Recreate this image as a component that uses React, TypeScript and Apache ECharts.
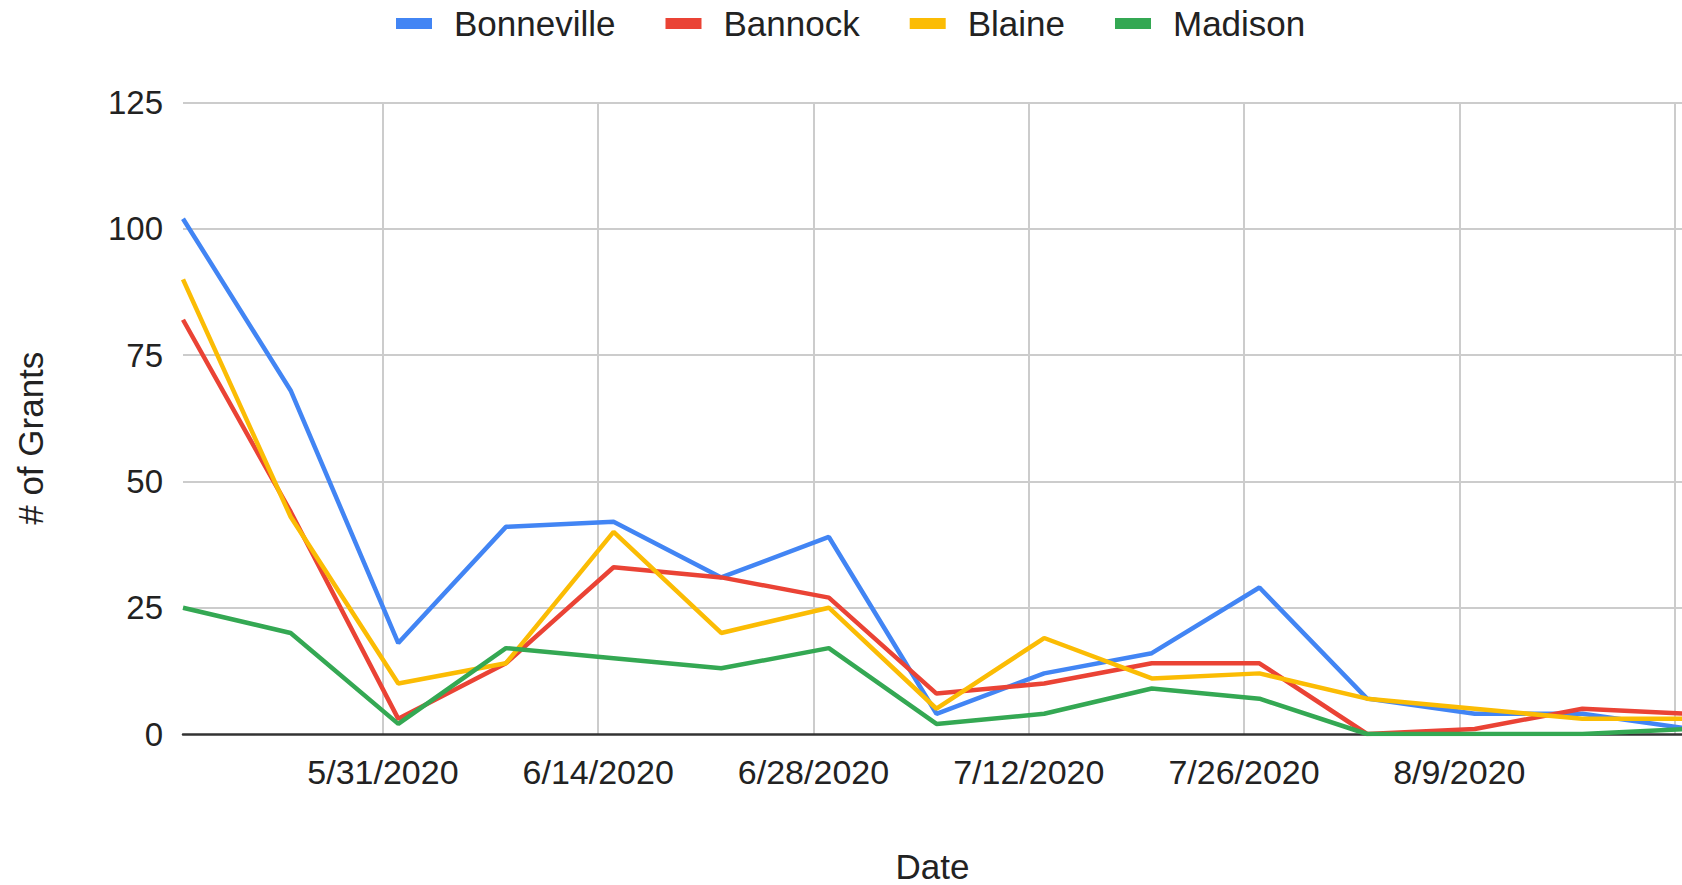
import React, { useEffect, useRef } from "react";
import * as echarts from "echarts";

// ---- data ----
const dates = [
  "2020-05-18", "2020-05-25", "2020-06-01", "2020-06-08", "2020-06-15",
  "2020-06-22", "2020-06-29", "2020-07-06", "2020-07-13", "2020-07-20",
  "2020-07-27", "2020-08-03", "2020-08-10", "2020-08-17", "2020-08-24",
];
const bonneville = [102, 68, 18, 41, 42, 31, 39, 4, 12, 16, 29, 7, 4, 4, 1];
const bannock = [82, 44, 3, 14, 33, 31, 27, 8, 10, 14, 14, 0, 1, 5, 4];
const blaine = [90, 43, 10, 14, 40, 20, 25, 5, 19, 11, 12, 7, 5, 3, 3];
const madison = [25, 20, 2, 17, 15, 13, 17, 2, 4, 9, 7, 0, 0, 0, 1];

const seriesNames = ["Bonneville", "Bannock", "Blaine", "Madison"];
const seriesValues = [bonneville, bannock, blaine, madison];
const seriesColors = ["#4285F4", "#EA4335", "#FBBC04", "#34A853"];

// x tick labels every 14 days, starting 5/31/2020
const xTickLabels = ["5/31/2020", "6/14/2020", "6/28/2020", "7/12/2020", "7/26/2020", "8/9/2020"];
const yTicks = [0, 25, 50, 75, 100, 125];

const DAY = 86400000;
const ANCHOR = Date.UTC(2020, 4, 31);
// x expressed in fortnights from 5/31/2020 so that gridlines fall on integers
const toFortnights = (iso: string) => (Date.parse(iso) - ANCHOR) / (14 * DAY);

const X_MIN = toFortnights("2020-05-18");
const X_MAX = toFortnights("2020-08-23") + 0.48 / 14;

const FONT = '"Liberation Sans", Arial, sans-serif';

export default function App() {
  const ref = useRef<HTMLDivElement>(null);

  useEffect(() => {
    if (!ref.current) return;
    const chart = echarts.init(ref.current, undefined, { renderer: "svg" });

    const series = seriesNames.map((name, i) => ({
      name,
      type: "line",
      data: dates.map((d, j) => [toFortnights(d), seriesValues[i][j]]),
      showSymbol: false,
      symbol: "none",
      color: seriesColors[i],
      lineStyle: { width: 4.5, color: seriesColors[i] },
      clip: true,
    }));

    chart.setOption({
      animation: false,
      backgroundColor: "#ffffff",
      textStyle: { fontFamily: FONT },
      legend: {
        data: seriesNames,
        left: 396,
        top: 6,
        padding: 0,
        icon: "rect",
        itemWidth: 36,
        itemHeight: 11,
        itemGap: 50,
        textStyle: {
          fontFamily: FONT,
          fontSize: 35,
          color: "#222222",
          padding: [0, 0, 0, 17],
        },
      },
      grid: {
        left: 183,
        right: 0,
        top: 102.5,
        bottom: 151,
        containLabel: false,
        outerBoundsMode: "none",
      },
      xAxis: {
        type: "value",
        min: X_MIN,
        max: X_MAX,
        minInterval: 1,
        maxInterval: 1,
        name: "Date",
        nameLocation: "middle",
        nameGap: 115,
        nameTextStyle: { fontFamily: FONT, fontSize: 35, color: "#222222" },
        axisLine: { show: true, onZero: false, lineStyle: { color: "#333333", width: 2.5 } },
        axisTick: { show: false },
        axisLabel: {
          show: true,
          margin: 21,
          fontFamily: FONT,
          fontSize: 34,
          color: "#222222",
          showMinLabel: true,
          showMaxLabel: true,
          hideOverlap: false,
          formatter: (v: number) => {
            const r = Math.round(v);
            if (Math.abs(v - r) > 1e-6) return "";
            return xTickLabels[r] ?? "";
          },
        },
        splitLine: {
          show: true,
          showMinLine: false,
          showMaxLine: false,
          lineStyle: { color: "#cccccc", width: 2 },
        },
      },
      yAxis: {
        type: "value",
        min: yTicks[0],
        max: yTicks[yTicks.length - 1],
        interval: 25,
        name: "# of Grants",
        nameLocation: "middle",
        nameGap: 135,
        nameTextStyle: { fontFamily: FONT, fontSize: 35, color: "#222222", padding: [0, 40, 0, 0] },
        axisLine: { show: false },
        axisTick: { show: false },
        axisLabel: {
          margin: 20,
          fontFamily: FONT,
          fontSize: 33,
          color: "#222222",
        },
        splitLine: {
          show: true,
          showMinLine: false,
          lineStyle: { color: "#cccccc", width: 2 },
        },
      },
      series,
    });

    return () => chart.dispose();
  }, []);

  return (
    <div
      style={{
        position: "fixed",
        left: 0,
        top: 0,
        width: "1682px",
        height: "885px",
        background: "#ffffff",
        overflow: "hidden",
      }}
    >
      <div ref={ref} style={{ width: "1682px", height: "885px" }} />
    </div>
  );
}
